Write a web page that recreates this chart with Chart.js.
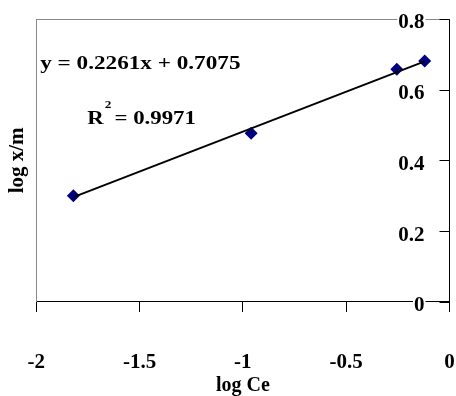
<!DOCTYPE html>
<html>
<head>
<meta charset="utf-8">
<script src="https://cdn.jsdelivr.net/npm/chart.js@4/dist/chart.umd.min.js"></script>
<style>
  html, body { margin: 0; padding: 0; background: #fff; }
  #wrap { width: 456px; height: 396px; }
</style>
</head>
<body>
<div id="wrap"><canvas id="c"></canvas></div>
<script>
// ---- data ----
const logCe  = [-1.82, -0.96, -0.255, -0.12];
const logXM  = [0.300, 0.477, 0.658, 0.681];
const trendX = [-1.82, -0.12];
const trendY = [0.296, 0.680];
const xTicks = [-2, -1.5, -1, -0.5, 0];
const yTicks = [0, 0.2, 0.4, 0.6, 0.8];
const eqText = 'y = 0.2261x + 0.7075';
const r2Val  = '= 0.9971';

const FONT = "'Liberation Serif', 'Times New Roman', serif";
const NAVY = '#000080';

// ---- extras: gray plot frame, inward y ticks + labels, equation text ----
const extras = {
    id: 'extras',
    beforeDatasetsDraw(chart) {
        const { ctx, chartArea: a } = chart;
        ctx.save();
        ctx.strokeStyle = '#888';
        ctx.lineWidth = 1;
        ctx.beginPath();
        ctx.moveTo(a.left, Math.round(a.top) + 0.5);
        ctx.lineTo(a.right, Math.round(a.top) + 0.5);
        ctx.stroke();
        ctx.restore();
    },
    afterDraw(chart) {
        const { ctx, chartArea: a } = chart;
        const y = chart.scales.y;
        ctx.save();
        ctx.strokeStyle = '#000';
        ctx.lineWidth = 1;
        ctx.beginPath();
        y.ticks.forEach(t => {
            const py = Math.round(y.getPixelForValue(t.value)) + 0.5;
            ctx.moveTo(a.right - 10, py);
            ctx.lineTo(a.right, py);
        });
        ctx.stroke();

        // y tick labels sit inside the plot, left of the axis
        ctx.font = 'bold 21px ' + FONT;
        ctx.textAlign = 'right';
        ctx.textBaseline = 'middle';
        y.ticks.forEach(t => {
            const py = y.getPixelForValue(t.value) + 4;
            const txt = String(t.value);
            const w = ctx.measureText(txt).width;
            ctx.fillStyle = '#fff';
            ctx.fillRect(a.right - 25 - w - 1, py - 8, w + 2, 16);
            ctx.fillStyle = '#000';
            ctx.fillText(txt, a.right - 25, py);
        });

        ctx.textAlign = 'left';
        ctx.textBaseline = 'alphabetic';
        ctx.font = 'bold 19px ' + FONT;
        // equation
        ctx.save();
        ctx.translate(a.left + 4, a.top + 50);
        ctx.scale(1.22, 1);
        ctx.fillText(eqText, 0, 0);
        ctx.restore();
        // R squared
        ctx.save();
        ctx.translate(a.left + 51, a.top + 105);
        ctx.scale(1.2, 1);
        ctx.fillText('R', 0, 0);
        const rw = ctx.measureText('R').width;
        ctx.font = 'bold 11px ' + FONT;
        ctx.fillText('2', rw + 1, -16);
        ctx.font = 'bold 19px ' + FONT;
        ctx.fillText(r2Val, rw + 9, 0);
        ctx.restore();
        ctx.restore();
    }
};

new Chart(document.getElementById('c'), {
    type: 'scatter',
    data: {
        datasets: [
            {
                label: 'trend',
                data: trendX.map((x, i) => ({ x: x, y: trendY[i] })),
                showLine: true,
                borderColor: '#000',
                borderWidth: 2,
                pointRadius: 0,
                order: 0
            },
            {
                label: 'log x/m',
                data: logCe.map((x, i) => ({ x: x, y: logXM[i] })),
                pointStyle: 'rectRot',
                pointRadius: 6.5,
                backgroundColor: NAVY,
                borderColor: NAVY,
                borderWidth: 0,
                order: 1
            }
        ]
    },
    options: {
        responsive: true,
        maintainAspectRatio: false,
        animation: false,
        layout: { padding: { left: 0, right: 6, top: 19, bottom: 0 } },
        plugins: { legend: { display: false }, tooltip: { enabled: false } },
        scales: {
            x: {
                type: 'linear',
                min: -2,
                max: 0,
                afterBuildTicks: s => { s.ticks = xTicks.map(v => ({ value: v })); },
                // long tick slot, but only the first 10px is inked
                grid: {
                    drawOnChartArea: false, drawTicks: true, tickLength: 48,
                    color: '#000', tickBorderDash: [10, 200]
                },
                border: { display: true, color: '#000', width: 1 },
                ticks: {
                    color: '#000', padding: 0,
                    font: { family: FONT, size: 21, weight: 'bold' },
                    callback: v => String(v)
                },
                title: {
                    display: true, text: 'log Ce', color: '#000',
                    font: { family: FONT, size: 20, weight: 'bold', lineHeight: 1 },
                    padding: { top: 1, bottom: 0 }
                }
            },
            y: {
                position: 'right',
                min: 0,
                max: 0.8,
                afterBuildTicks: s => { s.ticks = yTicks.map(v => ({ value: v })); },
                grid: { display: false, drawTicks: false },
                border: { display: true, color: '#000', width: 1 },
                ticks: { display: false }
            },
            yL: {
                position: 'left',
                min: 0,
                max: 0.8,
                grid: { display: false, drawTicks: false },
                border: { display: true, color: '#888', width: 1 },
                ticks: { display: false },
                title: {
                    display: true, text: 'log x/m', color: '#000',
                    font: { family: FONT, size: 21, weight: 'bold' },
                    padding: { top: 5, bottom: 6 }
                }
            }
        }
    },
    plugins: [extras]
});
</script>
</body>
</html>
